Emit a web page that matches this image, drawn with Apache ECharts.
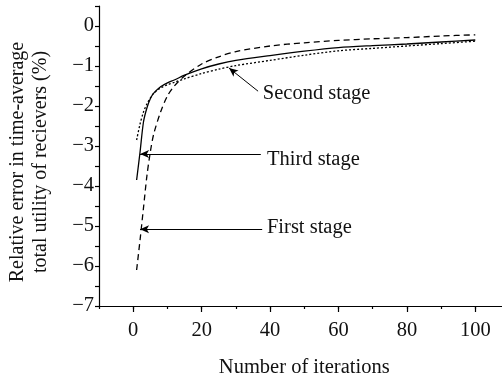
<!DOCTYPE html>
<html style="height: 100%">
<head>
    <meta charset="utf-8">
    <title>Relative error vs iterations</title>
</head>
<body style="height: 100%; margin: 0; background: #fff">
<div id="container" style="width: 502px; height: 377px"></div>
<script type="text/javascript" src="https://cdn.jsdelivr.net/npm/echarts@6/dist/echarts.min.js"></script>
<script type="text/javascript">
// iterations
var iters = [1, 2, 3, 4, 5, 6, 8, 10, 12, 15, 20, 25, 30, 40, 50, 60, 70, 80, 90, 100];
var firstStage  = [-6.1, -5.35, -4.55, -3.75, -3.15, -2.7, -2.15, -1.75, -1.5, -1.25, -0.95, -0.77, -0.64, -0.5, -0.42, -0.36, -0.32, -0.29, -0.25, -0.22];
var secondStage = [-2.85, -2.45, -2.15, -1.95, -1.8, -1.68, -1.55, -1.47, -1.41, -1.32, -1.19, -1.08, -0.99, -0.86, -0.73, -0.62, -0.56, -0.5, -0.44, -0.38];
var thirdStage  = [-3.85, -3.15, -2.4, -2.05, -1.82, -1.68, -1.52, -1.42, -1.35, -1.23, -1.07, -0.95, -0.86, -0.74, -0.63, -0.54, -0.49, -0.45, -0.4, -0.35];
var xLabels = [0, 20, 40, 60, 80, 100];

var font = 'Liberation Serif';
var fs = 20.5;

function pairs(ys){
    var out = [];
    for(var i=0;i<iters.length;i++){
        out.push([iters[i], ys[i]]);
    }
    return out;
}

// arrow + text for each stage (data coords)
function note(text, from, to, textAt){
    return {
        markLine: {
            silent: true,
            symbol: ['none', 'arrow'],
            symbolSize: [6, 9],
            lineStyle: {color: '#000', type: 'solid', width: 1},
            label: {show: false},
            data: [[{coord: from}, {coord: to}]]
        },
        markPoint: {
            silent: true,
            symbol: 'circle',
            symbolSize: 0,
            label: {
                show: true, position: 'right', distance: 0,
                formatter: text, color: '#111', fontFamily: font, fontSize: fs
            },
            data: [{coord: textAt}]
        }
    };
}

var dom = document.getElementById('container');
var myChart = echarts.init(dom);

var n1 = note('First stage', [37.7, -5.08], [2.0, -5.08], [39.1, -5.05]);
var n2 = note('Second stage', [36.5, -1.63], [28.0, -1.05], [37.9, -1.7]);
var n3 = note('Third stage', [37.3, -3.2], [2.0, -3.2], [39.1, -3.35]);

var option = {
    animation: false,
    grid: {left: 99, top: 6, bottom: 71, right: -7.5, outerBoundsMode: 'none', containLabel: false},
    xAxis: [{
        type: 'value', min: -10, max: 110, interval: 10,
        name: 'Number of iterations', nameLocation: 'middle', nameGap: 51,
        nameTextStyle: {fontFamily: font, fontSize: fs, color: '#111'},
        axisLine: {onZero: false, lineStyle: {color: '#000', width: 1.2}},
        axisTick: {length: 3, lineStyle: {color: '#000', width: 1.2}},
        axisLabel: {
            fontFamily: font, fontSize: fs, color: '#111', margin: 14,
            formatter: function(v){ return (v >= 0 && v <= 100 && v % 20 === 0) ? v : ''; }
        },
        splitLine: {show: false}
    }, {
        type: 'value', min: -10, max: 110, position: 'bottom',
        axisLine: {show: false, onZero: false},
        axisTick: {show: true, length: 6, customValues: xLabels, lineStyle: {color: '#000', width: 1.2}},
        axisLabel: {show: false},
        splitLine: {show: false}
    }],
    yAxis: {
        type: 'value', min: -7, max: 0.5, interval: 0.5,
        name: 'Relative error in time-average\ntotal utility of recievers (%)',
        nameLocation: 'middle', nameRotate: 90, nameGap: 47,
        nameTextStyle: {fontFamily: font, fontSize: 20, color: '#111', lineHeight: 23, padding: [0, 12, 0, 0]},
        axisLine: {onZero: false, lineStyle: {color: '#000', width: 1.2}},
        axisTick: {length: 4, lineStyle: {color: '#000', width: 1.2}},
        axisLabel: {
            fontFamily: font, fontSize: fs, color: '#111', margin: 5,
            formatter: function(v){
                if (v % 1 !== 0) return '';
                return v < 0 ? '\u2212' + Math.abs(v) : '' + v;
            }
        },
        splitLine: {show: false}
    },
    series: [{
        name: 'First stage', type: 'line', smooth: 0.3, showSymbol: false,
        lineStyle: {color: '#000', width: 1.3, type: [6, 4]},
        data: pairs(firstStage),
        markLine: n1.markLine, markPoint: n1.markPoint
    }, {
        name: 'Second stage', type: 'line', smooth: 0.3, showSymbol: false,
        lineStyle: {color: '#000', width: 1.3, type: [2, 2]},
        data: pairs(secondStage),
        markLine: n2.markLine, markPoint: n2.markPoint
    }, {
        name: 'Third stage', type: 'line', smooth: 0.3, showSymbol: false,
        lineStyle: {color: '#000', width: 1.3},
        data: pairs(thirdStage),
        markLine: n3.markLine, markPoint: n3.markPoint
    }]
};
myChart.setOption(option);
</script>
</body>
</html>
